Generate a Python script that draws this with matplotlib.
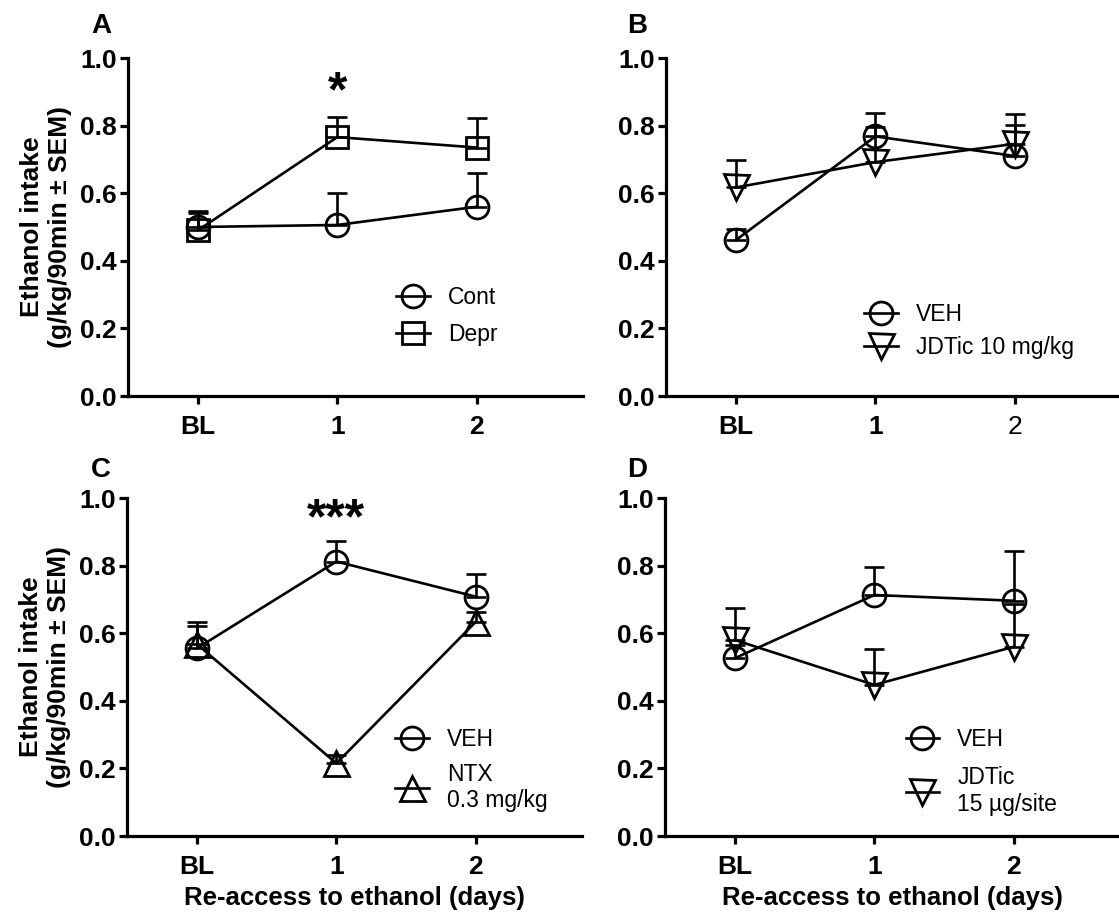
import matplotlib.pyplot as plt

plt.rcParams['font.family'] = ['Liberation Sans', 'DejaVu Sans']

# Categories (x axis)
days = ['BL', '1', '2']

# Panel A
a_cont_mean = [0.50, 0.506, 0.56]
a_cont_sem = [0.04, 0.095, 0.10]
a_depr_mean = [0.49, 0.766, 0.735]
a_depr_sem = [0.057, 0.06, 0.087]

# Panel B
b_veh_mean = [0.461, 0.768, 0.71]
b_veh_sem = [0.034, 0.069, 0.092]
b_jdtic_mean = [0.617, 0.692, 0.746]
b_jdtic_sem = [0.08, 0.105, 0.088]

# Panel C
c_veh_mean = [0.555, 0.812, 0.708]
c_veh_sem = [0.079, 0.062, 0.068]
c_ntx_mean = [0.568, 0.215, 0.634]
c_ntx_sem = [0.054, 0.025, 0.03]

# Panel D
d_veh_mean = [0.526, 0.713, 0.696]
d_veh_sem = [0.04, 0.082, 0.146]
d_jdtic_mean = [0.58, 0.447, 0.56]
d_jdtic_sem = [0.096, 0.106, 0.125]

W, H = 1119, 924
fig = plt.figure(figsize=(W / 100, H / 100), dpi=100)


def px_axes(left, top, right, bottom):
    '''Create axes from pixel box'''
    return fig.add_axes([left / W, 1 - bottom / H, (right - left) / W, (bottom - top) / H])


def draw_series(ax, mean, sem, marker, size, label):
    '''Draw one series with upper SEM bars'''
    x = range(len(days))
    ax.errorbar(x, mean, yerr=[[0] * len(sem), sem], fmt='none', ecolor='black',
                elinewidth=1.9, capsize=7, capthick=1.9, zorder=2)
    ax.plot(x, mean, color='black', lw=1.9, marker=marker, markersize=size,
            markerfacecolor='none', markeredgecolor='black', markeredgewidth=2.0,
            label=label, zorder=3)


def style_axes(ax):
    ax.set_xlim(-0.5, 2.76)
    ax.set_ylim(0, 1.0)
    ax.set_yticks([0, 0.2, 0.4, 0.6, 0.8, 1.0])
    ax.set_yticklabels(['0.0', '0.2', '0.4', '0.6', '0.8', '1.0'])
    ax.set_xticks(range(len(days)))
    ax.set_xticklabels(days)
    for side in ['top', 'right']:
        ax.spines[side].set_visible(False)
    for side in ['left', 'bottom']:
        ax.spines[side].set_linewidth(2.3)
    ax.tick_params(axis='both', direction='out', length=6, width=2.3, labelsize=19)
    ax.tick_params(axis='y', pad=2)
    ax.tick_params(axis='x', pad=8)
    for t in ax.get_xticklabels() + ax.get_yticklabels():
        t.set_fontweight('bold')


def add_legend(ax, x, y, spacing):
    ax.legend(loc='center left', bbox_to_anchor=(x, y), frameon=False, fontsize=16.5,
              handlelength=1.45, handletextpad=0.8, labelspacing=spacing,
              borderpad=0, borderaxespad=0, numpoints=1)


ylabel = 'Ethanol intake\n(g/kg/90min \u00b1 SEM)'
xlabel = 'Re-access to ethanol (days)'

# Panel A
ax_a = px_axes(128, 58, 583, 396)
draw_series(ax_a, a_cont_mean, a_cont_sem, 'o', 16.5, 'Cont')
draw_series(ax_a, a_depr_mean, a_depr_sem, 's', 16.5, 'Depr')
style_axes(ax_a)
ax_a.set_ylabel(ylabel, fontsize=19, fontweight='bold', labelpad=6)
ax_a.text(1, 0.895, '*', ha='center', va='center', fontsize=36, fontweight='bold')
add_legend(ax_a, 0.59, 0.237, 0.6)

# Panel B
ax_b = px_axes(666, 58, 1121, 396)
draw_series(ax_b, b_veh_mean, b_veh_sem, 'o', 16.5, 'VEH')
draw_series(ax_b, b_jdtic_mean, b_jdtic_sem, 'v', 18, 'JDTic 10 mg/kg')
style_axes(ax_b)
ax_b.get_xticklabels()[2].set_fontweight('normal')
add_legend(ax_b, 0.436, 0.192, 0.45)

# Panel C
ax_c = px_axes(127, 498, 582, 836)
draw_series(ax_c, c_veh_mean, c_veh_sem, 'o', 16.5, 'VEH')
draw_series(ax_c, c_ntx_mean, c_ntx_sem, '^', 18, 'NTX\n0.3 mg/kg')
style_axes(ax_c)
ax_c.set_ylabel(ylabel, fontsize=19, fontweight='bold', labelpad=6)
ax_c.set_xlabel(xlabel, fontsize=18.5, fontweight='bold', labelpad=5)
ax_c.text(1, 0.935, '***', ha='center', va='center', fontsize=36, fontweight='bold')
add_legend(ax_c, 0.59, 0.195, 0.5)

# Panel D
ax_d = px_axes(665, 498, 1120, 836)
draw_series(ax_d, d_veh_mean, d_veh_sem, 'o', 16.5, 'VEH')
draw_series(ax_d, d_jdtic_mean, d_jdtic_sem, 'v', 18, 'JDTic\n15 \u00b5g/site')
style_axes(ax_d)
ax_d.set_xlabel(xlabel, fontsize=18.5, fontweight='bold', labelpad=5)
add_legend(ax_d, 0.529, 0.19, 0.65)

# Panel letters
for letter, xp, yp in [('A', 101, 26), ('B', 637, 26), ('C', 101, 470), ('D', 637, 470)]:
    fig.text(xp / W, 1 - yp / H, letter, ha='center', va='center', fontsize=20, fontweight='bold')

fig.savefig('out.png', dpi=100)
